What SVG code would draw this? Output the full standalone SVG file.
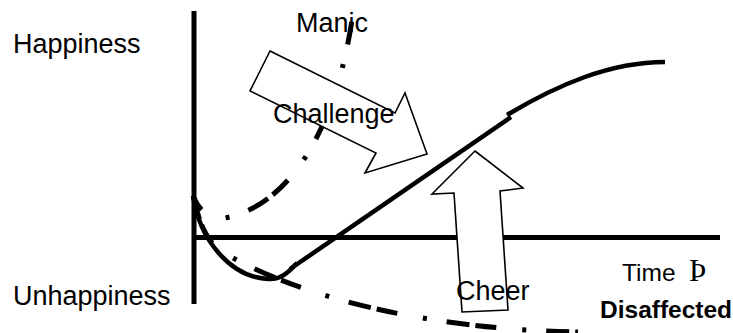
<svg xmlns="http://www.w3.org/2000/svg" width="733" height="333" viewBox="0 0 733 333">
  <style>
    .axis { stroke: #000; stroke-width: 5; fill: none; }
    .solid { stroke: #000; stroke-width: 4.5; fill: none; }
    .dashdot { stroke: #000; stroke-width: 5; fill: none; stroke-dasharray: 4 20 23 6 21 26; }
    .block { fill: #fff; stroke: #000; stroke-width: 1.6; stroke-linejoin: miter; }
    .lbl { font-family: "Liberation Sans", Arial, sans-serif; font-size: 27px; fill: #000; }
    .small { font-size: 24.5px; }
    .bold { font-weight: bold; }
    .thorn { font-family: "Liberation Serif", "Times New Roman", serif; font-size: 31px; }
  </style>

  <!-- axes -->
  <g id="axes">
    <line class="axis" x1="194" y1="11" x2="194" y2="304"/>
    <line class="axis" x1="192" y1="237.5" x2="720" y2="237.5"/>
  </g>

  <!-- curves -->
  <g id="connectors">
    <!-- manic: rises steeply -->
    <path id="manic-curve" class="dashdot" stroke-dashoffset="60"
          d="M194,198 Q202,218 225,218 C290,205 335,130 352,20"/>
    <!-- disaffected: sinks away -->
    <path id="disaffected-curve" class="dashdot" stroke-dashoffset="25"
          d="M194,198 C200,230 212,250 233,258 C320,305 450,330 578,332"/>
    <!-- typical course: dip, then recovery -->
    <path id="main-dip" class="solid" d="M193,196 C200,240 230,277 268,279 C280,280 288,273 297,263"/>
    <line class="solid" x1="290" y1="269" x2="511" y2="117"/>
    <path class="solid" d="M507,115 C557,85 610,62 665,62"/>
  </g>

  <!-- block arrows -->
  <g id="challenge">
    <polygon class="block" points="270,51 395,113 405,93 427,154 365,173 376,153 250,91"/>
  </g>
  <g id="cheer">
    <polygon class="block" points="475,151 523,188 500,191 508,310 462,312 454,193 432,194"/>
  </g>

  <!-- labels -->
  <g id="labels">
    <text class="lbl" x="13" y="53">Happiness</text>
    <text class="lbl" x="13" y="304.5">Unhappiness</text>
    <text class="lbl" x="296" y="32">Manic</text>
    <text class="lbl" x="273" y="123">Challenge</text>
    <text class="lbl" x="456" y="300">Cheer</text>
    <text class="lbl small" x="622" y="281">Time<tspan class="thorn" x="689">Þ</tspan></text>
    <text class="lbl small bold" x="600" y="318">Disaffected</text>
  </g>
</svg>
